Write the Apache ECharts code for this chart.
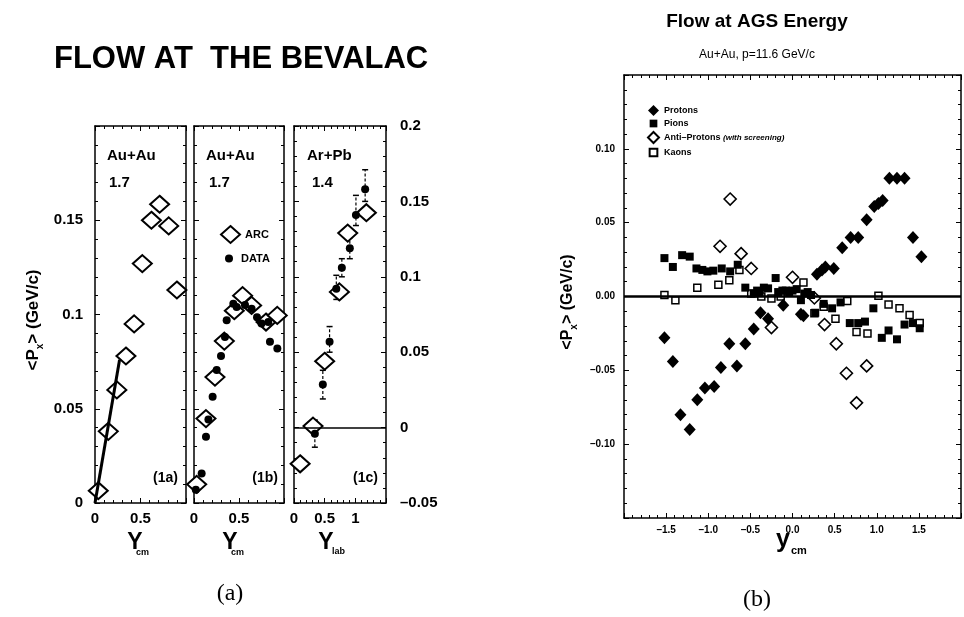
<!DOCTYPE html>
<html>
<head>
<meta charset="utf-8" />
<title>Flow at the Bevalac / Flow at AGS Energy</title>
<script src="https://cdn.jsdelivr.net/npm/echarts@6/dist/echarts.min.js"></script>
<style>
  html, body { margin: 0; padding: 0; background: #fff; }
  #chart { width: 964px; height: 617px; }
</style>
</head>
<body>
<div id="chart"></div>
<script>
// ---- data ----
// (1a) Au+Au 1.7, ARC
var arcAX = [0.036, 0.146, 0.24, 0.34, 0.43, 0.52, 0.62, 0.71, 0.81, 0.90];
var arcAY = [0.0065, 0.038, 0.060, 0.078, 0.095, 0.127, 0.150, 0.1585, 0.147, 0.113];
var fitAX = [0, 0.27];
var fitAY = [0, 0.076];
// (1b) Au+Au 1.7, ARC and DATA
var arcBX = [0.03, 0.133, 0.233, 0.337, 0.448, 0.54, 0.64, 0.80, 0.925];
var arcBY = [0.0099, 0.0448, 0.0668, 0.0859, 0.102, 0.110, 0.1048, 0.096, 0.0995];
var dataBX = [0.02, 0.085, 0.133, 0.16, 0.207, 0.252, 0.30, 0.344, 0.363, 0.437, 0.474, 0.567, 0.64, 0.70, 0.75, 0.826, 0.844, 0.926];
var dataBY = [0.007, 0.0157, 0.0351, 0.0443, 0.0563, 0.0705, 0.078, 0.088, 0.097, 0.1057, 0.104, 0.105, 0.103, 0.0986, 0.0952, 0.096, 0.0855, 0.082];
// (1c) Ar+Pb 1.4, ARC and DATA with error bars
var arcCX = [0.10, 0.31, 0.50, 0.74, 0.876, 1.18];
var arcCY = [-0.024, 0.001, 0.044, 0.090, 0.129, 0.1425];
var dataCX = [0.34, 0.47, 0.58, 0.69, 0.78, 0.91, 1.01, 1.16];
var dataCY = [-0.004, 0.0285, 0.057, 0.092, 0.106, 0.119, 0.141, 0.158];
var errCLow = [-0.013, 0.019, 0.050, 0.085, 0.100, 0.112, 0.134, 0.150];
var errCHigh = [0.005, 0.038, 0.067, 0.101, 0.112, 0.126, 0.154, 0.171];
// (b) AGS Au+Au p=11.6 GeV/c
var protonX = [-1.52, -1.42, -1.33, -1.22, -1.13, -1.04, -0.93, -0.85, -0.75, -0.66, -0.56, -0.46, -0.38, -0.29, -0.11, 0.10, 0.13, 0.29, 0.35, 0.39, 0.49, 0.59, 0.69, 0.78, 0.88, 0.97, 1.02, 1.07, 1.15, 1.24, 1.33, 1.43, 1.53];
var protonY = [-0.028, -0.044, -0.080, -0.090, -0.070, -0.062, -0.061, -0.048, -0.032, -0.047, -0.032, -0.022, -0.011, -0.015, -0.006, -0.012, -0.013, 0.015, 0.018, 0.020, 0.019, 0.033, 0.040, 0.040, 0.052, 0.061, 0.063, 0.065, 0.080, 0.080, 0.080, 0.040, 0.027];
var pionX = [-1.52, -1.42, -1.31, -1.22, -1.14, -1.07, -1.01, -0.94, -0.84, -0.74, -0.65, -0.56, -0.46, -0.42, -0.39, -0.34, -0.29, -0.20, -0.17, -0.12, -0.08, -0.04, 0.0, 0.05, 0.10, 0.14, 0.18, 0.22, 0.27, 0.37, 0.47, 0.57, 0.68, 0.78, 0.86, 0.96, 1.06, 1.14, 1.24, 1.33, 1.43, 1.51];
var pionY = [0.026, 0.020, 0.028, 0.027, 0.019, 0.018, 0.017, 0.0175, 0.019, 0.017, 0.0215, 0.006, 0.002, 0.004, 0.003, 0.006, 0.0055, 0.0125, 0.003, 0.004, 0.004, 0.003, 0.004, 0.005, -0.0025, 0.002, 0.003, 0.001, -0.011, -0.005, -0.008, -0.004, -0.018, -0.018, -0.017, -0.008, -0.028, -0.023, -0.029, -0.019, -0.018, -0.0215];
var antiX = [-0.86, -0.74, -0.61, -0.49, -0.25, 0.0, 0.26, 0.38, 0.52, 0.64, 0.76, 0.88];
var antiY = [0.034, 0.066, 0.029, 0.019, -0.021, 0.013, -0.001, -0.019, -0.032, -0.052, -0.072, -0.047];
var kaonX = [-1.52, -1.39, -1.13, -0.88, -0.75, -0.63, -0.49, -0.37, -0.25, -0.14, 0.13, 0.26, 0.37, 0.51, 0.65, 0.76, 0.89, 1.02, 1.14, 1.27, 1.39, 1.51];
var kaonY = [0.001, -0.0025, 0.006, 0.008, 0.011, 0.018, 0.002, 0.0, -0.0013, 0.0, 0.0094, -0.0114, -0.007, -0.015, -0.003, -0.024, -0.025, 0.0005, -0.0054, -0.008, -0.0125, -0.018];

var FONT = '"Liberation Sans", Arial, Helvetica, sans-serif';
var SERIF = '"Liberation Serif", "DejaVu Serif", serif';

function zip(xs, ys) {
    return xs.map(function (x, i) { return [x, ys[i]]; });
}
function zip3(xs, a, b) {
    return xs.map(function (x, i) { return [x, a[i], b[i]]; });
}
function num(v, d) {
    return String(+v.toFixed(d)).replace('-', '\u2013');
}

// one axis side of a boxed panel
function ax(gi, pos, min, max, interval, fmt, fontSize, margin) {
    return {
        type: 'value', gridIndex: gi, position: pos,
        min: min, max: max, interval: interval,
        axisLine: { show: true, onZero: false, lineStyle: { color: '#000', width: 1.5 } },
        axisTick: { show: true, inside: true, length: 5, lineStyle: { color: '#000', width: 1 } },
        minorTick: { show: true, splitNumber: 5, length: 3, lineStyle: { color: '#000', width: 1 } },
        splitLine: { show: false },
        minorSplitLine: { show: false },
        axisLabel: fmt ? {
            show: true, formatter: fmt, color: '#000', fontFamily: FONT,
            fontWeight: 'bold', fontSize: fontSize || 15, margin: margin || 8
        } : { show: false }
    };
}

var fmtX1 = function (v) { return (v === 0 || v === 0.5) ? num(v, 1) : ''; };
var fmtX3 = function (v) { return v <= 1.0001 ? num(v, 1) : ''; };
var fmtYL = function (v) { return v > 0.19 ? '' : num(v, 2); };
var fmtYR = function (v) { return num(v, 2); };
var fmtBX = function (v) { return Math.abs(v) > 1.6 ? '' : (v < 0 ? '\u2013' : '') + Math.abs(v).toFixed(1); };
var fmtBY = function (v) { return Math.abs(v) > 0.14 ? '' : (v < -0.0001 ? '\u2013' : '') + Math.abs(v).toFixed(2); };

var chart = echarts.init(document.getElementById('chart'));

var openDiamond = { color: '#fff', borderColor: '#000', borderWidth: 2, opacity: 1 };
var solid = { color: '#000', opacity: 1 };
// square legend icons padded inside their box
var smallSquare = 'path://M0,0M10,10M1.5,1.5h7v7h-7z';

function renderErr(params, api) {
    var x = api.value(0);
    var p1 = api.coord([x, api.value(1)]);
    var p2 = api.coord([x, api.value(2)]);
    var c = 3;
    var st = { stroke: '#000', lineWidth: 1.5 };
    return {
        type: 'group',
        children: [
            { type: 'line', shape: { x1: p1[0], y1: p1[1], x2: p2[0], y2: p2[1] }, style: { stroke: '#000', lineWidth: 1.2, lineDash: [3, 2] } },
            { type: 'line', shape: { x1: p1[0] - c, y1: p1[1], x2: p1[0] + c, y2: p1[1] }, style: st },
            { type: 'line', shape: { x1: p2[0] - c, y1: p2[1], x2: p2[0] + c, y2: p2[1] }, style: st }
        ]
    };
}

function txt(x, y, text, font, align) {
    return {
        type: 'text', x: x, y: y, z: 10,
        style: {
            text: text, font: font, fill: '#000',
            align: align || 'left', textAlign: align || 'left',
            verticalAlign: 'middle', textVerticalAlign: 'middle'
        }
    };
}

function pxTitle(x, y, size) {
    return {
        type: 'text', x: x, y: y, rotation: Math.PI / 2, z: 10,
        style: {
            text: '{n|<P}{s|x}{n|> (GeV/c)}', fill: '#000',
            align: 'center', textAlign: 'center', verticalAlign: 'middle', textVerticalAlign: 'middle',
            rich: {
                n: { font: 'bold ' + size + 'px ' + FONT, fill: '#000', lineHeight: size + 7, verticalAlign: 'middle' },
                s: { font: 'bold 10px ' + FONT, fill: '#000', lineHeight: 10, verticalAlign: 'bottom' }
            }
        }
    };
}

var option = {
    animation: false,
    backgroundColor: '#fff',
    grid: [
        { left: 95, top: 126, width: 91, height: 377 },
        { left: 194, top: 126, width: 90, height: 377 },
        { left: 294, top: 126, width: 92, height: 377 },
        { left: 624, top: 75, width: 338, height: 443 }
    ],
    xAxis: [
        ax(0, 'bottom', 0, 1, 0.5, fmtX1), ax(0, 'top', 0, 1, 0.5),
        ax(1, 'bottom', 0, 1, 0.5, fmtX1), ax(1, 'top', 0, 1, 0.5),
        ax(2, 'bottom', 0, 1.5, 0.5, fmtX3), ax(2, 'top', 0, 1.5, 0.5),
        ax(3, 'bottom', -2, 2, 0.5, fmtBX, 10, 7), ax(3, 'top', -2, 2, 0.5)
    ],
    yAxis: [
        ax(0, 'left', 0, 0.2, 0.05, fmtYL, 15, 12), ax(0, 'right', 0, 0.2, 0.05),
        ax(1, 'left', 0, 0.2, 0.05), ax(1, 'right', 0, 0.2, 0.05),
        ax(2, 'left', -0.05, 0.2, 0.05), ax(2, 'right', -0.05, 0.2, 0.05, fmtYR, 15, 14),
        ax(3, 'left', -0.15, 0.15, 0.05, fmtBY, 10, 9), ax(3, 'right', -0.15, 0.15, 0.05)
    ],
    legend: [
        {
            data: [
                { name: 'Protons' },
                { name: 'Pions', icon: smallSquare },
                { name: 'Anti\u2013Protons' },
                { name: 'Kaons', icon: smallSquare }
            ],
            orient: 'vertical', left: 642, top: 100,
            itemWidth: 11, itemHeight: 11, itemGap: 2, selectedMode: false,
            textStyle: {
                fontFamily: FONT, fontSize: 9, fontWeight: 'bold', color: '#000',
                rich: { i: { fontFamily: FONT, fontSize: 8, fontStyle: 'italic', fontWeight: 'bold', color: '#000' } }
            },
            formatter: function (n) { return n === 'Anti\u2013Protons' ? n + ' {i|(with screening)}' : n; }
        },
        {
            data: ['ARC'], orient: 'vertical', left: 215, top: 220,
            itemWidth: 19, itemHeight: 17, selectedMode: false,
            textStyle: { fontFamily: FONT, fontSize: 11, fontWeight: 'bold', color: '#000' }
        },
        {
            data: ['DATA'], orient: 'vertical', left: 220, top: 248,
            itemWidth: 8, itemHeight: 8, selectedMode: false,
            textStyle: { fontFamily: FONT, fontSize: 11, fontWeight: 'bold', color: '#000', padding: [0, 0, 0, 3] }
        }
    ],
    series: [
        {
            name: 'ARC', type: 'scatter', xAxisIndex: 0, yAxisIndex: 0,
            symbol: 'diamond', symbolSize: [19, 17], itemStyle: openDiamond, z: 3,
            data: zip(arcAX, arcAY)
        },
        {
            name: 'fit', type: 'line', xAxisIndex: 0, yAxisIndex: 0, symbol: 'none', z: 4,
            lineStyle: { color: '#000', width: 3 },
            data: zip(fitAX, fitAY)
        },
        {
            name: 'ARC', type: 'scatter', xAxisIndex: 2, yAxisIndex: 2,
            symbol: 'diamond', symbolSize: [19, 17], itemStyle: openDiamond, z: 3,
            data: zip(arcBX, arcBY)
        },
        {
            name: 'DATA', type: 'scatter', xAxisIndex: 2, yAxisIndex: 2,
            symbol: 'circle', symbolSize: 8, itemStyle: solid, z: 4,
            data: zip(dataBX, dataBY)
        },
        {
            name: 'ARC', type: 'scatter', xAxisIndex: 4, yAxisIndex: 5,
            symbol: 'diamond', symbolSize: [19, 17], itemStyle: openDiamond, z: 3,
            data: zip(arcCX, arcCY),
            markLine: {
                silent: true, symbol: 'none', label: { show: false },
                lineStyle: { color: '#000', width: 1.5, type: 'solid' },
                data: [{ yAxis: 0 }]
            }
        },
        {
            name: 'errC', type: 'custom', xAxisIndex: 4, yAxisIndex: 5, z: 2,
            renderItem: renderErr, encode: { x: 0, y: [1, 2] },
            data: zip3(dataCX, errCLow, errCHigh)
        },
        {
            name: 'DATA', type: 'scatter', xAxisIndex: 4, yAxisIndex: 5,
            symbol: 'circle', symbolSize: 8, itemStyle: solid, z: 4,
            data: zip(dataCX, dataCY)
        },
        {
            name: 'Protons', type: 'scatter', xAxisIndex: 6, yAxisIndex: 6,
            symbol: 'diamond', symbolSize: [12, 13], itemStyle: solid, z: 4,
            data: zip(protonX, protonY),
            markLine: {
                silent: true, symbol: 'none', label: { show: false },
                lineStyle: { color: '#000', width: 2.5, type: 'solid' },
                data: [{ yAxis: 0 }]
            }
        },
        {
            name: 'Pions', type: 'scatter', xAxisIndex: 6, yAxisIndex: 6,
            symbol: 'rect', symbolSize: 8, itemStyle: solid, z: 4,
            data: zip(pionX, pionY)
        },
        {
            name: 'Anti\u2013Protons', type: 'scatter', xAxisIndex: 6, yAxisIndex: 6,
            symbol: 'diamond', symbolSize: [12, 12],
            itemStyle: { color: '#fff', borderColor: '#000', borderWidth: 1.6, opacity: 1 }, z: 3,
            data: zip(antiX, antiY)
        },
        {
            name: 'Kaons', type: 'scatter', xAxisIndex: 6, yAxisIndex: 6,
            symbol: 'rect', symbolSize: 7,
            itemStyle: { color: '#fff', borderColor: '#000', borderWidth: 1.5, opacity: 1 }, z: 3,
            data: zip(kaonX, kaonY)
        }
    ],
    graphic: [
        txt(54, 59, 'FLOW AT  THE BEVALAC', 'bold 31px ' + FONT),
        txt(107, 156, 'Au+Au', 'bold 15px ' + FONT),
        txt(109, 183, '1.7', 'bold 15px ' + FONT),
        txt(206, 156, 'Au+Au', 'bold 15px ' + FONT),
        txt(209, 183, '1.7', 'bold 15px ' + FONT),
        txt(307, 156, 'Ar+Pb', 'bold 15px ' + FONT),
        txt(312, 183, '1.4', 'bold 15px ' + FONT),
        txt(178, 478, '(1a)', 'bold 14px ' + FONT, 'right'),
        txt(278, 478, '(1b)', 'bold 14px ' + FONT, 'right'),
        txt(378, 478, '(1c)', 'bold 14px ' + FONT, 'right'),
        txt(135, 543, 'Y', 'bold 23px ' + FONT, 'center'),
        txt(136, 553, 'cm', 'bold 9px ' + FONT),
        txt(230, 543, 'Y', 'bold 23px ' + FONT, 'center'),
        txt(231, 553, 'cm', 'bold 9px ' + FONT),
        txt(326, 543, 'Y', 'bold 23px ' + FONT, 'center'),
        txt(332, 552, 'lab', 'bold 9px ' + FONT),
        pxTitle(33, 320, 17),
        txt(230, 594, '(a)', '24px ' + SERIF, 'center'),
        txt(757, 22, 'Flow at AGS Energy', 'bold 19px ' + FONT, 'center'),
        txt(757, 55, 'Au+Au, p=11.6 GeV/c', '12px ' + FONT, 'center'),
        pxTitle(568, 302, 16),
        txt(783, 540, 'y', 'bold 25px ' + FONT, 'center'),
        txt(791, 551, 'cm', 'bold 11px ' + FONT),
        txt(757, 600, '(b)', '24px ' + SERIF, 'center')
    ]
};

chart.setOption(option);
</script>
</body>
</html>
